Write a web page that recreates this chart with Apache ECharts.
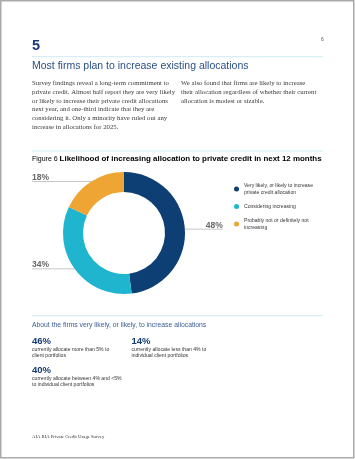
<!DOCTYPE html>
<html><head><meta charset="utf-8">
<script src="https://cdn.jsdelivr.net/npm/echarts@6/dist/echarts.min.js"></script>
<style>html,body{margin:0;padding:0;background:#fff}#c{width:355px;height:459px}</style>
</head><body><div id="c"></div>
<script>
// ---- data ----
const categories = [
  'Very likely, or likely to increase private credit allocation',
  'Considering increasing',
  'Probably not or definitely not increasing'
];
const legendLabels = [
  'Very likely, or likely to increase\nprivate credit allocation',
  'Considering increasing',
  'Probably not or definitely not\nincreasing'
];
const values = [48, 34, 18];
const statValues = ['46%', '14%', '40%'];
const statTexts = [
  'currently allocate more than 5% to\nclient portfolios',
  'currently allocate less than 4% to\nindividual client portfolios',
  'currently allocate between 4% and <5%\nto individual client portfolios'
];
const sectionNumber = '5';
const pageNumber = '6';
const heading = 'Most firms plan to increase existing allocations';
const bodyLeft = 'Survey findings reveal a long-term commitment to\nprivate credit. Almost half report they are very likely\nor likely to increase their private credit allocations\nnext year, and one-third indicate that they are\nconsidering it. Only a minority have ruled out any\nincrease in allocations for 2025.';
const bodyRight = 'We also found that firms are likely to increase\ntheir allocation regardless of whether their current\nallocation is modest or sizable.';
const figureLabel = 'Figure 6 ';
const figureTitle = 'Likelihood of increasing allocation to private credit in next 12 months';
const subHeading = 'About the firms very likely, or likely, to increase allocations';
const footer = 'AIA RIA Private Credit Usage Survey';

// ---- style / layout ----
const colors = ['#0e3f74', '#1fb5cf', '#eea533'];
const SANS = "'Liberation Sans', Arial, sans-serif";
const SERIF = "'Liberation Serif', 'Times New Roman', serif";
const PL = 32, PR = 323;
const CX = 124, CY = 233, R_IN = 41, R_OUT = 61;
const RIGHT_LINE = 38;

const statPos = [[PL, 341], [131.5, 341], [PL, 370.3]];

function txt(x, y, text, font, fill, extra) {
  return Object.assign({ type: 'text', x: x, y: y, silent: true,
    style: Object.assign({ text: text, font: font, fill: fill, align: 'left', verticalAlign: 'middle',
      textAlign: 'left', textVerticalAlign: 'middle' }, extra || {}) });
}
function rule(y) {
  return { type: 'line', silent: true, shape: { x1: PL, y1: y, x2: PR, y2: y },
    style: { stroke: '#cdebf2', lineWidth: 1 } };
}

const elements = [
  { type: 'rect', silent: true, shape: { x: 0.75, y: 0.75, width: 353, height: 457 },
    style: { fill: 'none', stroke: '#a9a9a9', lineWidth: 1.5 } },
  txt(PL, 46, sectionNumber, 'bold 14.5px ' + SANS, '#1b3a7a'),
  txt(321, 39.3, pageNumber, '5px ' + SANS, '#555'),
  rule(56.7),
  txt(PL, 66.5, heading, '10.5px ' + SANS, '#2b4f86'),
  txt(PL, 79, bodyLeft, '6.75px ' + SERIF, '#3a3a3a', { verticalAlign: 'top', textVerticalAlign: 'top', lineHeight: 8.7 }),
  txt(181, 79, bodyRight, '6.75px ' + SERIF, '#3a3a3a', { verticalAlign: 'top', textVerticalAlign: 'top', lineHeight: 8.7 }),
  rule(151),
  { type: 'text', x: PL, y: 159, silent: true, style: {
      text: '{a|' + figureLabel + '}{b|' + figureTitle + '}',
      verticalAlign: 'middle', textVerticalAlign: 'middle',
      rich: {
        a: { fontFamily: SANS, fontSize: 7, color: '#1a3c73' },
        b: { fontFamily: SANS, fontSize: 7.95, fontWeight: 'bold', color: '#1a3c73' }
      } } },
  rule(315.7),
  txt(PL, 325, subHeading, '6.8px ' + SANS, '#3a5f96'),
  txt(PL, 436.7, footer, '4.7px ' + SERIF, '#333')
];
statValues.forEach(function (s, i) {
  elements.push(txt(statPos[i][0], statPos[i][1], s, 'bold 9.5px ' + SANS, '#143a6f'));
  elements.push(txt(statPos[i][0], statPos[i][1] + 5, statTexts[i], '5.1px ' + SANS, '#333',
    { verticalAlign: 'top', textVerticalAlign: 'top', lineHeight: 6.2 }));
});

const chart = echarts.init(document.getElementById('c'), null, { renderer: 'canvas' });
chart.setOption({
  animation: false,
  backgroundColor: '#fff',
  color: colors,
  legend: {
    orient: 'vertical', left: 229, top: 177,
    icon: 'circle', itemWidth: 5, itemHeight: 5, itemGap: 7,
    selectedMode: false,
    data: categories,
    formatter: function (name) { return legendLabels[categories.indexOf(name)]; },
    textStyle: { fontFamily: SANS, fontSize: 5.1, lineHeight: 7, color: '#333' }
  },
  graphic: { elements: elements },
  series: [{
    type: 'pie',
    center: [CX, CY],
    radius: [R_IN, R_OUT],
    startAngle: 90,
    clockwise: true,
    avoidLabelOverlap: false,
    silent: true,
    emphasis: { disabled: true },
    label: {
      show: true, position: 'outside',
      formatter: function (p) { return p.value + '%'; },
      fontFamily: SANS, fontWeight: 'bold', fontSize: 8.5, color: '#666'
    },
    labelLine: { show: true, length: 0, length2: 10, lineStyle: { color: '#c6c6c6', width: 1 } },
    labelLayout: function (p) {
      const pts = p.labelLinePoints;
      if (!pts) return {};
      const x0 = pts[0][0], y0 = pts[0][1];
      if (x0 < CX) {
        return { x: PL, y: y0 - 4, align: 'left', verticalAlign: 'middle',
          labelLinePoints: [[x0, y0], [(x0 + PL) / 2, y0], [PL, y0]] };
      }
      const xe = x0 + RIGHT_LINE;
      return { x: xe, y: y0 - 4, align: 'right', verticalAlign: 'middle',
        labelLinePoints: [[x0, y0], [(x0 + xe) / 2, y0], [xe, y0]] };
    },
    data: values.map(function (v, i) { return { value: v, name: categories[i] }; })
  }]
});
</script>
</body></html>
